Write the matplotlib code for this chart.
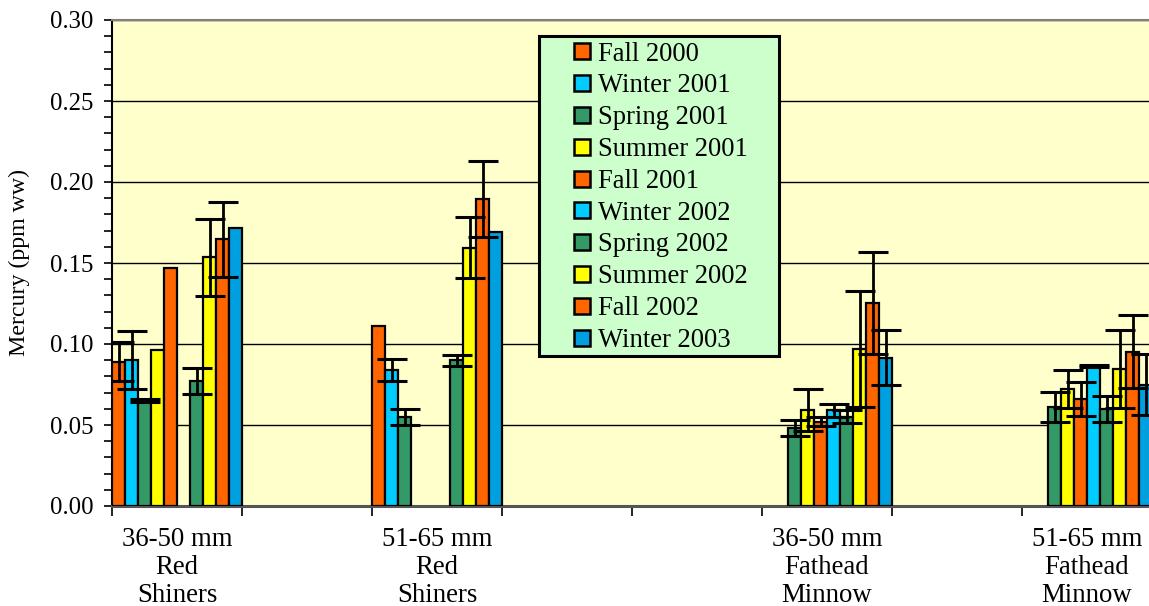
import numpy as np
import matplotlib
matplotlib.use("Agg")
import matplotlib.pyplot as plt
from matplotlib.patches import Rectangle
from matplotlib.lines import Line2D

nan = np.nan

categories = ["36-50 mm\nRed\nShiners", "", "51-65 mm\nRed\nShiners", "", "",
              "36-50 mm\nFathead\nMinnow", "", "51-65 mm\nFathead\nMinnow"]

seasons = ["Fall 2000", "Winter 2001", "Spring 2001", "Summer 2001", "Fall 2001",
           "Winter 2002", "Spring 2002", "Summer 2002", "Fall 2002", "Winter 2003"]

fall_2000   = [0.089, nan, 0.111, nan, nan, nan, nan, nan]
winter_2001 = [0.090, nan, 0.084, nan, nan, nan, nan, nan]
spring_2001 = [0.065, nan, 0.055, nan, nan, 0.048, nan, 0.061]
summer_2001 = [0.096, nan, nan, nan, nan, 0.059, nan, 0.072]
fall_2001   = [0.147, nan, nan, nan, nan, 0.052, nan, 0.066]
winter_2002 = [nan, nan, nan, nan, nan, 0.059, nan, 0.0866]
spring_2002 = [0.077, nan, 0.090, nan, nan, 0.055, nan, 0.060]
summer_2002 = [0.1535, nan, 0.1595, nan, nan, 0.097, nan, 0.0846]
fall_2002   = [0.1646, nan, 0.1895, nan, nan, 0.1255, nan, 0.0953]
winter_2003 = [0.1716, nan, 0.169, nan, nan, 0.0915, nan, 0.075]

fall_2000_err   = [0.012, nan, nan, nan, nan, nan, nan, nan]
winter_2001_err = [0.018, nan, 0.007, nan, nan, nan, nan, nan]
spring_2001_err = [0.0008, nan, 0.005, nan, nan, 0.0048, nan, 0.0093]
summer_2001_err = [nan, nan, nan, nan, nan, 0.013, nan, 0.0118]
fall_2001_err   = [nan, nan, nan, nan, nan, 0.0027, nan, 0.0103]
winter_2002_err = [nan, nan, nan, nan, nan, 0.004, nan, 0.0006]
spring_2002_err = [0.008, nan, 0.0035, nan, nan, 0.004, nan, 0.008]
summer_2002_err = [0.0236, nan, 0.0187, nan, nan, 0.036, nan, 0.024]
fall_2002_err   = [0.023, nan, 0.0235, nan, nan, 0.0315, nan, 0.0225]
winter_2003_err = [nan, nan, nan, nan, nan, 0.017, nan, 0.019]

values = [fall_2000, winter_2001, spring_2001, summer_2001, fall_2001,
          winter_2002, spring_2002, summer_2002, fall_2002, winter_2003]
errors = [fall_2000_err, winter_2001_err, spring_2001_err, summer_2001_err, fall_2001_err,
          winter_2002_err, spring_2002_err, summer_2002_err, fall_2002_err, winter_2003_err]

colors = ["#FF6600", "#00CCFF", "#339966", "#FFFF00", "#FF6600",
          "#00CCFF", "#339966", "#FFFF00", "#FF6600", "#00A0E0"]

plt.rcParams['font.family'] = ['Liberation Serif', 'DejaVu Serif']

W, H = 1149, 606
fig = plt.figure(figsize=(W / 100, H / 100), dpi=100)
fig.patch.set_facecolor("white")

ncat = len(categories)
axw = ncat * 130
ax = fig.add_axes([112 / W, 100 / H, axw / W, 486 / H])
ax.set_facecolor("#FFFFCC")

nser = len(seasons)
bw = 1.0 / nser
x0 = np.arange(ncat)
for j in range(nser):
    xs = x0 + (j + 0.5) * bw
    ax.bar(xs, values[j], width=bw, color=colors[j], edgecolor="black",
           linewidth=1.6, zorder=3)
for j in range(nser):
    xs = x0 + (j + 0.5) * bw
    ax.errorbar(xs, values[j], yerr=errors[j], fmt="none", ecolor="black",
                elinewidth=2, capsize=10.5, capthick=2.2, zorder=4)

ax.set_xlim(0, ncat)
ax.set_ylim(0, 0.30)
yt = np.arange(0, 0.301, 0.05)
ax.set_yticks(yt)
ax.set_yticklabels([f"{v:.2f}" for v in yt])
ax.set_yticks(np.arange(0, 0.301, 0.01), minor=True)
ax.yaxis.grid(True, which="major", color="black", linewidth=1.0, zorder=1)
ax.set_axisbelow(True)
ax.tick_params(axis="y", which="both", direction="out", length=6, width=1.2,
               labelsize=17.8, pad=7.3)

ax.set_xticks(np.arange(0, ncat + 1))
ax.set_xticklabels([])
ax.set_xticks(x0 + 0.5, minor=True)
ax.set_xticklabels(categories, minor=True, fontsize=19.3, linespacing=1.16)
ax.tick_params(axis="x", which="major", direction="out", length=7, width=1.2)
ax.tick_params(axis="x", which="minor", length=0, pad=14.8)

ax.spines["left"].set_color("black")
ax.spines["left"].set_linewidth(1.5)
ax.spines["bottom"].set_color("#555555")
ax.spines["bottom"].set_linewidth(2.2)
ax.spines["top"].set_color("#808080")
ax.spines["top"].set_linewidth(1.5)
ax.spines["right"].set_visible(False)

ax.set_ylabel("Mercury (ppm ww)", fontsize=17.2)
ax.yaxis.set_label_coords(-82 / axw, 0.5)

# legend box
box = Rectangle((539 / W, 1 - 356 / H), (779 - 539) / W, (356 - 36) / H,
                transform=fig.transFigure, facecolor="#CCFFCC", edgecolor="black",
                linewidth=2.2, zorder=4)
fig.add_artist(box)
handles = [Line2D([0], [0], marker="s", linestyle="none", markersize=11,
                  markerfacecolor=c, markeredgecolor="black", markeredgewidth=1.8)
           for c in colors]
leg = fig.legend(handles, seasons, loc="upper left",
                 bbox_to_anchor=(555 / W, 1 - 23 / H), frameon=False,
                 fontsize=19.2, handlelength=0.6, handletextpad=0.3,
                 labelspacing=0.255, borderpad=0.2)
leg.set_zorder(6)

fig.savefig("out.png", dpi=100)
